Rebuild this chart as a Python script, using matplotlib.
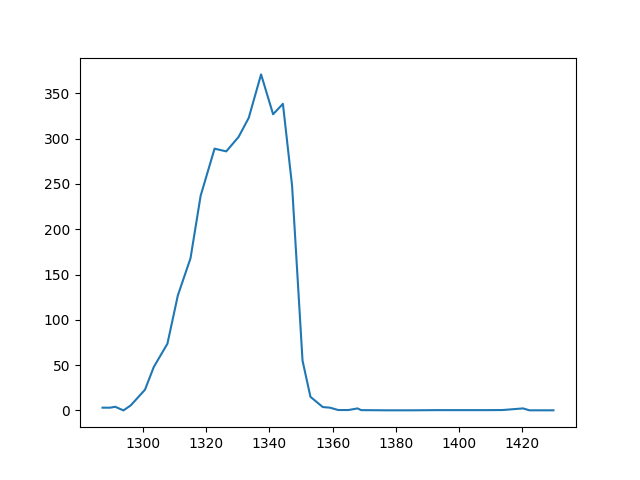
import matplotlib.pyplot as plt

# longitud de onda / valores
wl = [1287.3, 1289.7, 1291.3, 1293.9, 1296.2, 1300.7, 1303.5, 1307.8, 1311.1,
      1315.1, 1318.3, 1322.7, 1326.4, 1330.3, 1333.5, 1337.4, 1341.2, 1344.3,
      1347.2, 1350.5, 1353.0, 1356.9, 1359.2, 1361.8, 1365.0, 1367.9, 1369.0,
      1373.0, 1377.0, 1381.0, 1385.0, 1389.0, 1393.0, 1397.0, 1401.0, 1405.0,
      1409.0, 1413.7, 1420.2, 1422.2, 1426.0, 1429.8]
val = [3.0, 3.0, 4.0, 0.0, 5.5, 22.8, 48.0, 73.6, 127.0,
       168.0, 237.0, 289.0, 286.0, 302.0, 323.0, 371.0, 327.0, 338.5,
       248.0, 55.0, 15.0, 3.7, 3.0, 0.4, 0.4, 2.2, 0.3,
       0.2, 0.1, 0.1, 0.1, 0.2, 0.3, 0.3, 0.3, 0.3,
       0.3, 0.4, 2.2, 0.1, 0.1, 0.1]

fig, ax = plt.subplots(figsize=(6.4, 4.8), dpi=100)
ax.plot(wl, val)
fig.savefig('out.png')
